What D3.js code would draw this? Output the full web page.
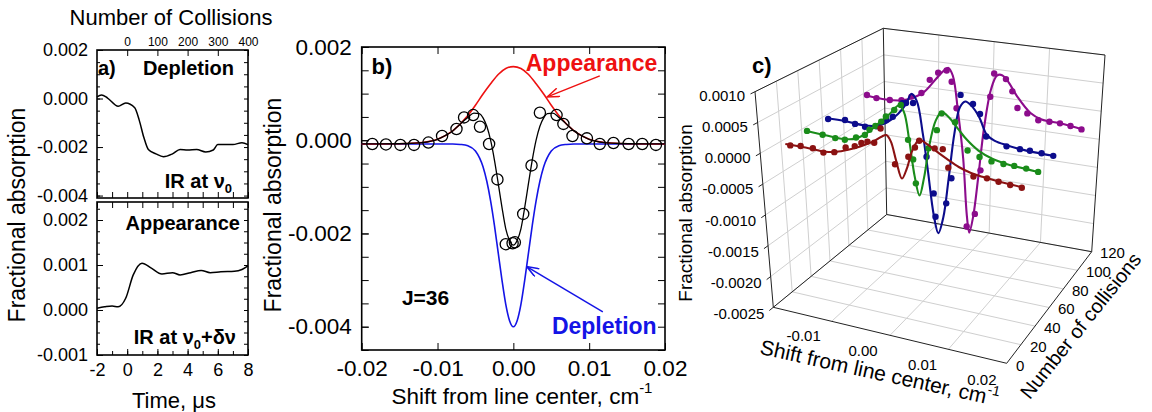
<!DOCTYPE html>
<html><head><meta charset="utf-8">
<script src="https://cdn.jsdelivr.net/npm/d3@7"></script>
<style>
body{margin:0;background:#fff}
svg{display:block}
</style>
</head><body>
<svg id="chart" width="1152" height="412"></svg>
<script>
// ================= DATA =================
// Panel a : time traces
const aDepTime = [-2,-1.7,-1.3,-0.6,-0.1,0.5,0.8,1.1,1.4,1.9,2.4,3.0,3.5,4.0,4.6,5.2,5.7,6.0,7.0,7.6,8];
const aDepVal  = [0.00007,0.00015,0.00002,-0.00032,-0.00018,-0.00038,-0.0009,-0.0016,-0.0021,-0.00228,-0.0024,-0.00228,-0.0021,-0.00212,-0.0021,-0.0022,-0.00212,-0.0019,-0.0019,-0.00182,-0.0019];
const aAppTime = [-2,-1.5,-1.0,-0.6,-0.1,0.4,0.98,1.6,2.3,3.0,3.5,4.2,4.9,5.5,6.2,7.1,7.6,8];
const aAppVal  = [0.00004,0.00007,0.00009,0.00007,0.00026,0.00078,0.00104,0.00093,0.0008,0.00083,0.00078,0.00083,0.00088,0.00083,0.00085,0.00086,0.0009,0.00098];
const aTimeTicks = [-2,0,2,4,6,8];
const aCollTicks = [0,100,200,300,400];
const aTopTicks = [0.002,0,-0.002,-0.004];
const aBotTicks = [0.002,0.001,0,-0.001];

// Panel b : line profile (J=36)
const bCircles = [[-0.0186,-0.00008],[-0.0168,-0.00009],[-0.0149,-0.0001],[-0.0131,-0.0001],[-0.0112,-0.00005],[-0.0094,0.00009],[-0.0075,0.00024],[-0.0065,0.00049],[-0.0053,0.00054],[-0.0044,0.00029],[-0.0032,-0.00008],[-0.0021,-0.00084],[-0.0010,-0.00223],[-0.0001,-0.00221],[0.0002,-0.00219],[0.0013,-0.00158],[0.0024,-0.00054],[0.0035,0.00059],[0.0057,0.00054],[0.0066,0.00035],[0.0078,0.00009],[0.0097,0.00004],[0.0114,-0.00008],[0.0132,-0.00006],[0.0152,-0.00008],[0.0170,-0.00008],[0.0188,-0.0001]];
const bFit = [[-0.02,-0.00008],[-0.014,-0.00007],[-0.012,-0.00005],[-0.01,0.00002],[-0.009,0.0001],[-0.008,0.0002],[-0.007,0.00035],[-0.006,0.00049],[-0.0052,0.00058],[-0.0045,0.00057],[-0.004,0.00048],[-0.0035,0.0003],[-0.003,0.0],[-0.0025,-0.00042],[-0.002,-0.00092],[-0.0015,-0.00144],[-0.001,-0.0019],[-0.0005,-0.00215],[0,-0.00225],[0.0005,-0.00215],[0.001,-0.0019],[0.0015,-0.00144],[0.002,-0.00092],[0.0025,-0.00042],[0.003,0.0],[0.0035,0.0003],[0.004,0.00048],[0.0045,0.00057],[0.0052,0.00058],[0.006,0.00049],[0.007,0.00035],[0.008,0.0002],[0.009,0.0001],[0.01,0.00002],[0.012,-0.00005],[0.014,-0.00007],[0.02,-0.00008]];
const bAppearance = [[-0.02,-0.00008],[-0.014,-0.00007],[-0.012,-0.00005],[-0.01,0.00002],[-0.008,0.0002],[-0.006,0.00053],[-0.005,0.00075],[-0.004,0.00099],[-0.003,0.00121],[-0.002,0.00141],[-0.001,0.00154],[0,0.00158],[0.001,0.00154],[0.002,0.00141],[0.003,0.00121],[0.004,0.00099],[0.005,0.00075],[0.006,0.00053],[0.008,0.0002],[0.01,0.00002],[0.012,-0.00005],[0.014,-0.00007],[0.02,-0.00008]];
const bDepletion = [[-0.02,-0.00008],[-0.008,-0.00008],[-0.007,-0.00009],[-0.006,-0.00012],[-0.005,-0.00023],[-0.004,-0.00057],[-0.0035,-0.00088],[-0.003,-0.0013],[-0.0025,-0.00182],[-0.002,-0.00241],[-0.0015,-0.003],[-0.001,-0.00352],[-0.0005,-0.00387],[0,-0.004],[0.0005,-0.00387],[0.001,-0.00352],[0.0015,-0.003],[0.002,-0.00241],[0.0025,-0.00182],[0.003,-0.0013],[0.0035,-0.00088],[0.004,-0.00057],[0.005,-0.00023],[0.006,-0.00012],[0.007,-0.00009],[0.008,-0.00008],[0.02,-0.00008]];
const bXTicks = [-0.02,-0.01,0,0.01,0.02];
const bYTicks = [0.002,0,-0.002,-0.004];

// Panel c : 3-D waterfall (shift, absorption) at given number of collisions
const cCollisions = [20,40,60,100];
const cColors = ['#8b1212','#1a8c1a','#0c0c8c','#8c0c8c'];
const cRedDots = [[-0.0185,-0.00004],[-0.0168,-0.00002],[-0.0148,-0.00002],[-0.0131,-0.00006],[-0.0113,-0.00002],[-0.0094,0.00009],[-0.0079,0.00014],[-0.0068,0.00021],[-0.0058,0.00025],[-0.0047,0.00025],[-0.0036,0.0005],[-0.0014,-0.00004],[0.0008,0.00012],[0.0019,0.00029],[0.0026,0.00041],[0.0051,0.00033],[0.0064,0.00034],[0.0073,0.00006],[0.0114,-0.00001],[0.0136,0.0],[0.0155,-0.00002],[0.0174,-0.00004],[0.0193,-0.00005]];
const cRedFit = [[-0.0193,-0.00003],[-0.016,-0.00003],[-0.013,-0.00004],[-0.011,-0.00001],[-0.009,0.00006],[-0.007,0.00015],[-0.005,0.00026],[-0.0035,0.00037],[-0.0027,0.00041],[-0.002,0.00032],[-0.0012,0.00002],[-0.0003,-0.00025],[0.0005,-0.00008],[0.0015,0.00024],[0.0026,0.00042],[0.004,0.00037],[0.0055,0.00028],[0.007,0.0002],[0.009,0.0001],[0.011,0.00004],[0.013,0.00001],[0.016,-0.00002],[0.0193,-0.00004]];
const cGreenDots = [[-0.0191,-0.00001],[-0.0165,-0.00003],[-0.0144,-0.00005],[-0.0128,-0.00005],[-0.0109,0.00002],[-0.0094,0.00009],[-0.0086,0.00019],[-0.0076,0.00027],[-0.0066,0.00036],[-0.0058,0.00046],[-0.0044,0.00059],[-0.0033,0.00069],[-0.0022,0.00013],[-0.0014,-0.00018],[-0.001,-0.00057],[0.0012,0.00005],[0.0026,0.00037],[0.0034,0.00066],[0.0056,0.00055],[0.0077,0.00012],[0.0097,0.00005],[0.0117,0.00001],[0.0137,0.0],[0.0155,0.0],[0.0175,-0.00001],[0.0195,-0.00003]];
const cGreenFit = [[-0.0193,-0.00001],[-0.016,-0.00003],[-0.013,-0.00004],[-0.011,0.0],[-0.009,0.00013],[-0.007,0.00033],[-0.005,0.00053],[-0.0036,0.00068],[-0.0028,0.00058],[-0.002,0.00012],[-0.0012,-0.00045],[-0.0004,-0.00076],[0.0004,-0.00045],[0.0013,0.00008],[0.0024,0.00052],[0.0034,0.00068],[0.0045,0.00062],[0.006,0.00046],[0.0075,0.0003],[0.0095,0.00015],[0.012,0.00005],[0.015,0.0],[0.0195,-0.00003]];
const cBlueDots = [[-0.019,-0.00001],[-0.0161,0.00002],[-0.0144,-0.00002],[-0.0127,-0.00004],[-0.0107,0.0],[-0.009,0.00014],[-0.0079,0.00021],[-0.0062,0.00047],[-0.0056,0.00048],[-0.0044,0.0005],[-0.0022,-0.00038],[-0.001,-0.00098],[-0.0007,-0.00137],[0.0012,-0.00111],[0.0021,-0.00067],[0.0036,0.00076],[0.0057,0.00064],[0.0069,0.00049],[0.008,0.00013],[0.0115,0.00002],[0.0138,0.00001],[0.0155,0.00001],[0.0175,0.0],[0.0195,-0.00001]];
const cBlueFit = [[-0.0193,0.0],[-0.016,0.0],[-0.013,-0.00002],[-0.011,0.0],[-0.009,0.00009],[-0.007,0.00027],[-0.0055,0.00048],[-0.0047,0.00065],[-0.0038,0.00055],[-0.0028,0.0],[-0.002,-0.0006],[-0.001,-0.00135],[-0.0002,-0.00164],[0.0007,-0.00135],[0.0016,-0.0007],[0.0026,0.0001],[0.0035,0.00055],[0.0044,0.00066],[0.0055,0.0006],[0.0068,0.00043],[0.0081,0.00016],[0.0095,0.00008],[0.0115,0.00004],[0.014,0.00001],[0.0195,-0.00001]];
const cPurpleDots = [[-0.0194,-0.00002],[-0.0177,-0.00005],[-0.0153,-0.00005],[-0.0132,-0.00002],[-0.0114,0.00007],[-0.0096,0.00016],[-0.0081,0.00042],[-0.0066,0.00057],[-0.0051,0.00063],[-0.0042,0.00044],[-0.0033,-0.00002],[-0.0012,-0.0021],[0.0003,-0.00185],[0.0012,-0.00106],[0.0027,0.00027],[0.0033,0.00069],[0.0054,0.00062],[0.0066,0.00042],[0.0076,0.00014],[0.0094,0.00007],[0.0114,-0.00002],[0.0134,-0.00002],[0.0153,-0.00002],[0.0172,-0.00004],[0.0192,-0.00007]];
const cPurpleFit = [[-0.0195,-0.00003],[-0.016,-0.00005],[-0.013,-0.00002],[-0.011,0.00006],[-0.009,0.0002],[-0.007,0.00045],[-0.0058,0.0006],[-0.0048,0.00068],[-0.004,0.00055],[-0.003,-0.0001],[-0.002,-0.0009],[-0.0012,-0.0019],[-0.0007,-0.0022],[0.0,-0.0019],[0.0008,-0.0012],[0.0017,-0.0003],[0.0028,0.0004],[0.0038,0.00066],[0.0047,0.00068],[0.0058,0.00058],[0.0075,0.00034],[0.0099,0.00009],[0.012,0.0],[0.0155,-0.00002],[0.0195,-0.00007]];
const cZTicks = [0.001,0.0005,0,-0.0005,-0.001,-0.0015,-0.002,-0.0025];
const cXTicks = [-0.01,0,0.01,0.02];
const cXGrid = [-0.01,0,0.01];
const cYTicks = [0,20,40,60,80,100,120];

// ================= DRAWING =================
const FONT = '"Liberation Sans", Arial, Helvetica, sans-serif';
const svg = d3.select('#chart');
svg.append('rect').attr('width',1152).attr('height',412).attr('fill','#fff');

function styleAxis(g, size){
  g.select('.domain').remove();
  g.attr('font-family', FONT).attr('font-size', size);
  g.selectAll('text').attr('fill','#000');
  g.selectAll('line').attr('stroke','#000').attr('stroke-width',1);
}
const f3 = d => (Math.abs(d) < 1e-12 ? 0 : d).toFixed(3);

// ---------- Panel a ----------
const gA = svg.append('g');
const ax = d3.scaleLinear().domain([-2,8]).range([97,248]);
const ayT = d3.scaleLinear().domain([-0.0041,0.002]).range([198,50]);
const ayB = d3.scaleLinear().domain([-0.001,0.0024]).range([355,202]);
const aColl = d3.scaleLinear().domain([0,400]).range([ax(0), ax(8)]);
const aMinorX = d3.range(-2, 8.01, 1);

gA.append('g').attr('transform','translate(97,0)')
  .call(d3.axisLeft(ayT).tickValues(aTopTicks).tickSize(-6).tickPadding(9).tickFormat(f3))
  .call(g=>styleAxis(g,18));
gA.append('g').attr('transform','translate(97,0)')
  .call(d3.axisLeft(ayT).tickValues(d3.range(-0.004,0.0021,0.0005)).tickSize(-3).tickFormat(''))
  .call(g=>styleAxis(g,18));
gA.append('g').attr('transform','translate(248,0)')
  .call(d3.axisRight(ayT).tickValues(d3.range(-0.004,0.0021,0.0005)).tickSize(-4).tickFormat(''))
  .call(g=>styleAxis(g,18));
gA.append('g').attr('transform','translate(0,50)')
  .call(d3.axisTop(aColl).tickValues(aCollTicks).tickSize(-6).tickPadding(4))
  .call(g=>styleAxis(g,12));
gA.append('g').attr('transform','translate(0,198)')
  .call(d3.axisBottom(ax).tickValues(aMinorX).tickSize(-6).tickFormat(''))
  .call(g=>styleAxis(g,12));
gA.append('rect').attr('x',97).attr('y',50).attr('width',151).attr('height',148)
  .attr('fill','none').attr('stroke','#000').attr('stroke-width',1.6);

gA.append('g').attr('transform','translate(97,0)')
  .call(d3.axisLeft(ayB).tickValues(aBotTicks).tickSize(-6).tickPadding(9).tickFormat(f3))
  .call(g=>styleAxis(g,18));
gA.append('g').attr('transform','translate(97,0)')
  .call(d3.axisLeft(ayB).tickValues(d3.range(-0.001,0.00241,0.00025)).tickSize(-3).tickFormat(''))
  .call(g=>styleAxis(g,18));
gA.append('g').attr('transform','translate(248,0)')
  .call(d3.axisRight(ayB).tickValues(d3.range(-0.001,0.00241,0.00025)).tickSize(-4).tickFormat(''))
  .call(g=>styleAxis(g,18));
gA.append('g').attr('transform','translate(0,355)')
  .call(d3.axisBottom(ax).tickValues(aTimeTicks).tickSize(-6).tickPadding(8).tickFormat(d=>d))
  .call(g=>styleAxis(g,18));
gA.append('g').attr('transform','translate(0,355)')
  .call(d3.axisBottom(ax).tickValues(aMinorX).tickSize(-4).tickFormat(''))
  .call(g=>styleAxis(g,18));
gA.append('g').attr('transform','translate(0,202)')
  .call(d3.axisTop(ax).tickValues(aMinorX).tickSize(-6).tickFormat(''))
  .call(g=>styleAxis(g,12));
gA.append('rect').attr('x',97).attr('y',202).attr('width',151).attr('height',153)
  .attr('fill','none').attr('stroke','#000').attr('stroke-width',1.6);

gA.append('path').datum(d3.zip(aDepTime,aDepVal))
  .attr('d', d3.line().x(d=>ax(d[0])).y(d=>ayT(d[1])).curve(d3.curveMonotoneX))
  .attr('fill','none').attr('stroke','#000').attr('stroke-width',1.5);
gA.append('path').datum(d3.zip(aAppTime,aAppVal))
  .attr('d', d3.line().x(d=>ax(d[0])).y(d=>ayB(d[1])).curve(d3.curveMonotoneX))
  .attr('fill','none').attr('stroke','#000').attr('stroke-width',1.5);

const txt = (g, x, y, s, opt={}) => g.append('text').attr('x',x).attr('y',y)
  .attr('font-family',FONT).attr('font-size',opt.size||18).attr('font-weight',opt.bold?'bold':'normal')
  .attr('text-anchor',opt.anchor||'start').attr('fill',opt.fill||'#000').text(s);
txt(gA, 171, 25, 'Number of Collisions', {size:22, anchor:'middle'});
txt(gA, 98, 75, 'a)', {size:20, bold:true});
txt(gA, 234, 75, 'Depletion', {size:20, bold:true, anchor:'end'});
const ir1 = txt(gA, 232, 188, 'IR at ', {size:20, bold:true, anchor:'end'});
ir1.append('tspan').text('ν');
ir1.append('tspan').attr('font-size',13).attr('dy',5).text('0');
txt(gA, 240, 230, 'Appearance', {size:20, bold:true, anchor:'end'});
const ir2 = txt(gA, 236, 344, 'IR at ', {size:20, bold:true, anchor:'end'});
ir2.append('tspan').text('ν');
ir2.append('tspan').attr('font-size',13).attr('dy',5).text('0');
ir2.append('tspan').attr('dy',-5).text('+δν');
txt(gA, 174, 408, 'Time, μs', {size:22, anchor:'middle'});
txt(gA, 0, 0, 'Fractional absorption', {size:23, anchor:'middle'})
  .attr('transform','translate(25,215) rotate(-90)');

// ---------- Panel b ----------
const gB = svg.append('g');
const bx = d3.scaleLinear().domain([-0.02,0.02]).range([361.7,665]);
const by = d3.scaleLinear().domain([-0.0045,0.002]).range([350,47]);
gB.append('g').attr('transform','translate(361.7,0)')
  .call(d3.axisLeft(by).tickValues(bYTicks).tickSize(-7).tickPadding(10).tickFormat(f3))
  .call(g=>styleAxis(g,22.5));
gB.append('g').attr('transform','translate(361.7,0)')
  .call(d3.axisLeft(by).tickValues(d3.range(-0.0045,0.00201,0.0005)).tickSize(-7).tickFormat(''))
  .call(g=>styleAxis(g,22));
gB.append('g').attr('transform','translate(665,0)')
  .call(d3.axisRight(by).tickValues(d3.range(-0.0045,0.00201,0.0005)).tickSize(-7).tickFormat(''))
  .call(g=>styleAxis(g,22));
gB.append('g').attr('transform','translate(0,350)')
  .call(d3.axisBottom(bx).tickValues(bXTicks).tickSize(-7).tickPadding(10).tickFormat(d=>(Math.abs(d)<1e-12?0:d).toFixed(2)))
  .call(g=>styleAxis(g,22.5));
gB.append('g').attr('transform','translate(0,47)')
  .call(d3.axisTop(bx).tickValues(bXTicks).tickSize(-7).tickFormat(''))
  .call(g=>styleAxis(g,22));
gB.append('rect').attr('x',361.7).attr('y',47).attr('width',303.3).attr('height',303)
  .attr('fill','none').attr('stroke','#000').attr('stroke-width',1.6);

const bLine = d3.line().x(d=>bx(d[0])).y(d=>by(d[1])).curve(d3.curveMonotoneX);
gB.append('path').datum(bDepletion).attr('d',bLine).attr('fill','none').attr('stroke','#1414e6').attr('stroke-width',1.6);
gB.append('path').datum(bAppearance).attr('d',bLine).attr('fill','none').attr('stroke','#ee1111').attr('stroke-width',1.6);
gB.append('path').datum(bFit).attr('d',bLine).attr('fill','none').attr('stroke','#000').attr('stroke-width',1.3);
gB.selectAll('circle.b').data(bCircles).join('circle').attr('class','b')
  .attr('cx',d=>bx(d[0])).attr('cy',d=>by(d[1])).attr('r',5.6)
  .attr('fill','none').attr('stroke','#000').attr('stroke-width',1.3);

const defs = svg.append('defs');
[['arR','#ee1111'],['arB','#1414e6']].forEach(([id,c])=>{
  defs.append('marker').attr('id',id).attr('viewBox','0 0 14 10').attr('refX',13).attr('refY',5)
    .attr('markerWidth',14).attr('markerHeight',10).attr('markerUnits','userSpaceOnUse').attr('orient','auto')
    .append('path').attr('d','M1,0.5 L13,5 L1,9.5').attr('fill','none').attr('stroke',c).attr('stroke-width',1.5);
});
gB.append('line').attr('x1',bx(0.0114)).attr('y1',by(0.00138)).attr('x2',bx(0.00447)).attr('y2',by(0.00093))
  .attr('stroke','#ee1111').attr('stroke-width',1.5).attr('marker-end','url(#arR)');
gB.append('line').attr('x1',bx(0.0118)).attr('y1',by(-0.00368)).attr('x2',bx(0.00176)).attr('y2',by(-0.00271))
  .attr('stroke','#1414e6').attr('stroke-width',1.5).attr('marker-end','url(#arB)');
txt(gB, bx(0.019), by(0.00166)+8, 'Appearance', {size:23, bold:true, anchor:'end', fill:'#ee1111'});
txt(gB, bx(0.0189), by(-0.00398)+8, 'Depletion', {size:23, bold:true, anchor:'end', fill:'#1414e6'});
txt(gB, bx(-0.0147), by(-0.00336)+8, 'J=36', {size:21, bold:true});
txt(gB, bx(-0.0187), by(0.0016)+8, 'b)', {size:22, bold:true});
const bt = txt(gB, 522, 404, 'Shift from line center, cm', {size:22.5, anchor:'middle'});
bt.append('tspan').attr('font-size',15).attr('dy',-11).text('-1');
txt(gB, 0, 0, 'Fractional absorption', {size:23, anchor:'middle'})
  .attr('transform','translate(281,205) rotate(-90)');

// ---------- Panel c (3-D) ----------
const gC = svg.append('g');
const cu = d3.scaleLinear().domain([-0.02,0.02]).range([0,1]);
const cv = d3.scaleLinear().domain([0,120]).range([0,1]);
const cw = d3.scaleLinear().domain([-0.0025,0.001]).range([0,1]);
const BOX = {
  '000':[773.3,307.3], '100':[1006.7,363.3], '010':[886.7,214.5], '110':[1091.7,251.7],
  '001':[755,91.7],    '101':[1013,135],     '011':[883.3,28.3],  '111':[1105,55]
};
const lerp = (a,b,t)=>[a[0]+(b[0]-a[0])*t, a[1]+(b[1]-a[1])*t];
function proj(u,v,w){
  const b0 = lerp(lerp(BOX['000'],BOX['100'],u), lerp(BOX['010'],BOX['110'],u), v);
  const b1 = lerp(lerp(BOX['001'],BOX['101'],u), lerp(BOX['011'],BOX['111'],u), v);
  return lerp(b0,b1,w);
}
const P = (x,y,z)=>proj(cu(x),cv(y),cw(z));
const seg = (g,p,q,stroke,sw)=>g.append('line').attr('x1',p[0]).attr('y1',p[1]).attr('x2',q[0]).attr('y2',q[1])
  .attr('stroke',stroke).attr('stroke-width',sw);
const GRID = '#cfcfcf';
cZTicks.forEach(z=>{
  seg(gC, P(-0.02,120,z), P(0.02,120,z), GRID, 1);
  seg(gC, P(-0.02,0,z), P(-0.02,120,z), GRID, 1);
});
cXGrid.forEach(x=>{
  seg(gC, P(x,120,-0.0025), P(x,120,0.001), GRID, 1);
  seg(gC, P(x,0,-0.0025), P(x,120,-0.0025), GRID, 1);
});
cYTicks.slice(1,-1).forEach(y=>{
  seg(gC, P(-0.02,y,-0.0025), P(-0.02,y,0.001), GRID, 1);
  seg(gC, P(-0.02,y,-0.0025), P(0.02,y,-0.0025), GRID, 1);
});
const E = '#222';
[[[-0.02,0,-0.0025],[-0.02,0,0.001]],[[-0.02,0,0.001],[-0.02,120,0.001]],[[-0.02,120,0.001],[0.02,120,0.001]],
 [[0.02,120,0.001],[0.02,120,-0.0025]],[[-0.02,120,0.001],[-0.02,120,-0.0025]],
 [[-0.02,0,-0.0025],[0.02,0,-0.0025]],[[0.02,0,-0.0025],[0.02,120,-0.0025]],
 [[-0.02,0,-0.0025],[-0.02,120,-0.0025]],[[-0.02,120,-0.0025],[0.02,120,-0.0025]]]
 .forEach(([a,b])=>seg(gC, P(...a), P(...b), E, 1));

cZTicks.forEach(z=>{
  seg(gC, P(-0.02,0,z), proj(0,-0.035,cw(z)), E, 1);
  const p = proj(0,-0.07,cw(z));
  txt(gC, p[0]-1, p[1]+5, z.toFixed(4).replace('-0.0000','0.0000'), {size:15, anchor:'end'});
});
cXTicks.forEach(x=>{
  const p = proj(cu(x),-0.15,0);
  txt(gC, p[0]-12, p[1]+5, x.toFixed(2), {size:15, anchor:'middle'});
});
cYTicks.forEach(y=>{
  const p = proj(1.04,cv(y),0);
  txt(gC, p[0], p[1]+5, String(y), {size:15});
});
txt(gC, 0, 0, 'Fractional absorption', {size:19, anchor:'middle'})
  .attr('transform','translate(692,213) rotate(-90)');
const ct = txt(gC, 0, 0, 'Shift from line center, cm', {size:21, anchor:'middle'})
  .attr('transform','translate(878,380) rotate(12.4)');
ct.append('tspan').attr('font-size',14).attr('dy',-10).text('-1');
txt(gC, 0, 0, 'Number of collisions', {size:20, anchor:'middle'})
  .attr('transform','translate(1086,330) rotate(-51.3)');
txt(gC, 752, 73, 'c)', {size:22, bold:true});

const cSeries = [
  {n:cCollisions[3], c:cColors[3], dots:cPurpleDots, fit:cPurpleFit},
  {n:cCollisions[2], c:cColors[2], dots:cBlueDots, fit:cBlueFit},
  {n:cCollisions[1], c:cColors[1], dots:cGreenDots, fit:cGreenFit},
  {n:cCollisions[0], c:cColors[0], dots:cRedDots, fit:cRedFit}
];
cSeries.forEach(s=>{
  const line = d3.line().x(d=>P(d[0],s.n,d[1])[0]).y(d=>P(d[0],s.n,d[1])[1]).curve(d3.curveCatmullRom.alpha(0.5));
  gC.append('path').datum(s.fit).attr('d',line).attr('fill','none').attr('stroke',s.c).attr('stroke-width',2.1);
  gC.selectAll(null).data(s.dots).join('circle')
    .attr('cx',d=>P(d[0],s.n,d[1])[0]).attr('cy',d=>P(d[0],s.n,d[1])[1]).attr('r',3.2).attr('fill',s.c);
});
</script>
</body></html>
